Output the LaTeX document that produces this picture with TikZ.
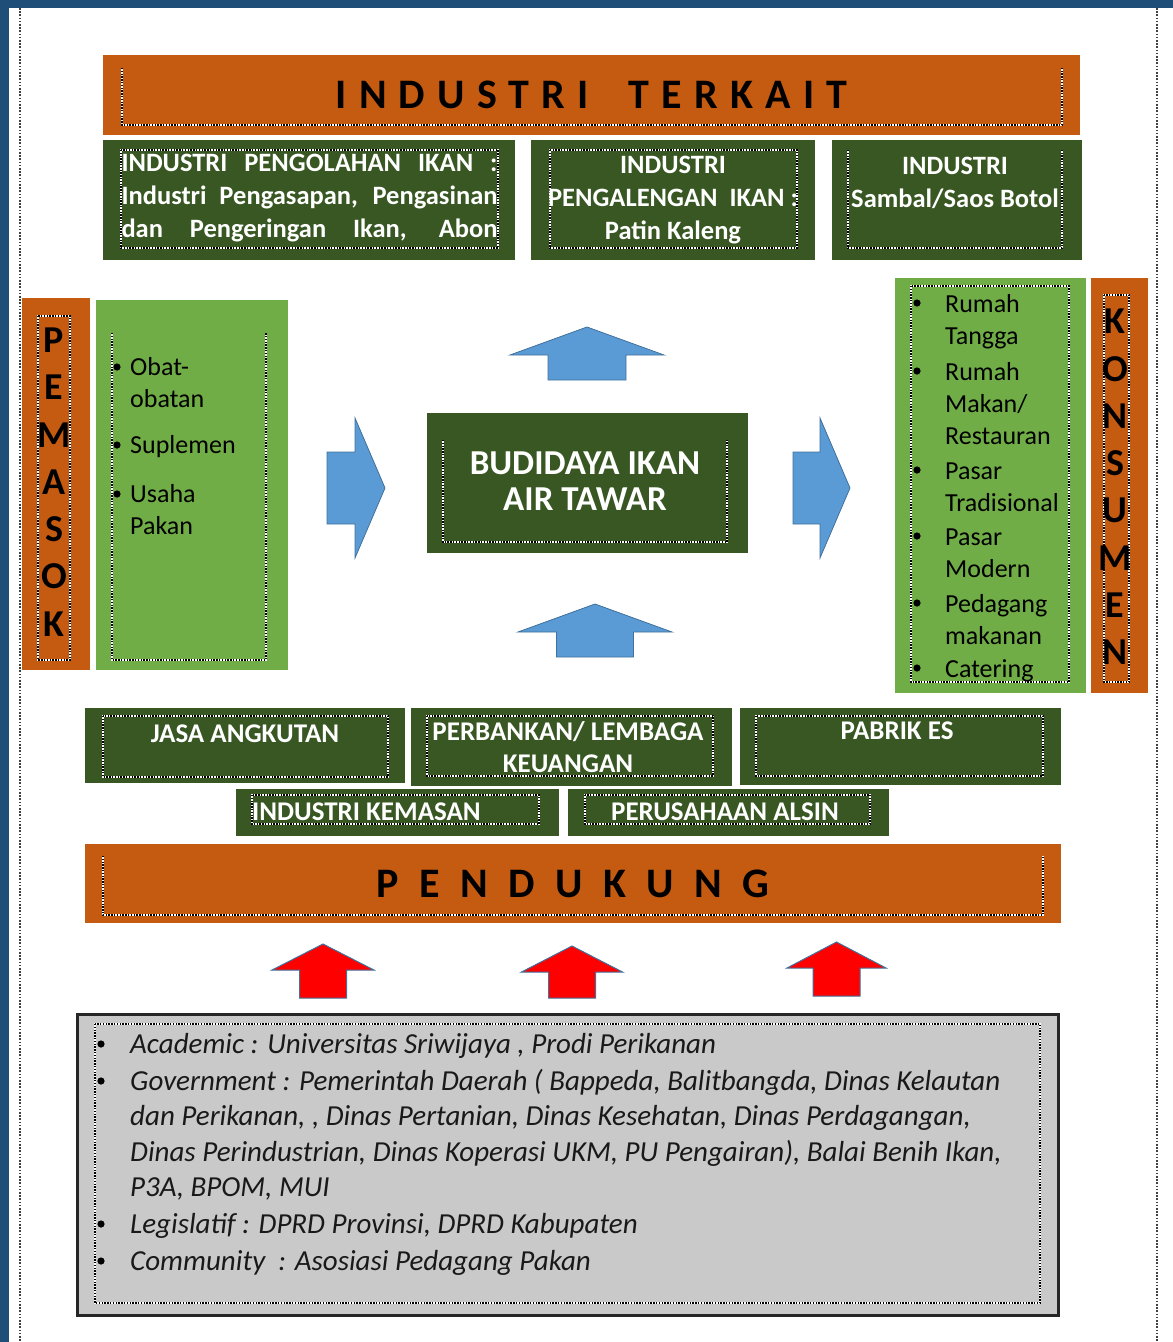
\documentclass[tikz,border=0pt]{standalone}
\usepackage{fontspec}
\setmainfont{Carlito}
\definecolor{orng}{HTML}{C55A11}
\definecolor{dgreen}{HTML}{385723}
\definecolor{lgreen}{HTML}{70AD47}
\definecolor{barrow}{HTML}{5B9BD5}
\definecolor{barrowline}{HTML}{41719C}
\definecolor{pageblue}{HTML}{1F4E79}
\definecolor{greybox}{HTML}{C9C9C9}
\newcommand\uparr[7]{\draw[#7] (#1,#2) -- ({#1+#4},#3) -- ({#1+#5},#3) -- ({#1+#5},#6) -- ({#1-#5},#6) -- ({#1-#5},#3) -- ({#1-#4},#3) -- cycle;}
\newcommand\rtarr[7]{\draw[#7] (#2,#1) -- (#3,{#1-#4}) -- (#3,{#1-#5}) -- (#6,{#1-#5}) -- (#6,{#1+#5}) -- (#3,{#1+#5}) -- (#3,{#1+#4}) -- cycle;}
\newcommand\bul[2]{\fill[black] (#1,#2) circle (3.6pt);}
\begin{document}
\begin{tikzpicture}[x=1pt,y=-1pt,
  box/.style={inner sep=0pt, outer sep=0pt, draw=none},
  obox/.style={box, fill=orng},
  gbox/.style={box, fill=dgreen},
  lbox/.style={box, fill=lgreen},
  dotf/.style={draw=white, line width=1.4pt, postaction={draw=black, line width=1.4pt, dash pattern=on 1.4pt off 1.4pt}},
  wtxt/.style={text=white, align=center, inner sep=0pt, font={\fontsize{26.5}{33}\selectfont\bfseries}},
  wtxtb/.style={wtxt, font={\fontsize{27}{32}\selectfont\bfseries}},
  ltxt/.style={text=black, align=left, inner sep=0pt, anchor=north west, font={\fontsize{26}{32}\selectfont}},
  gtxt/.style={text=black!90, align=left, inner sep=0pt, anchor=north west, font={\fontsize{29}{35.5}\selectfont\itshape}},
  vtxt/.style={text=black, align=center, inner sep=0pt, font={\fontsize{38}{47.3}\selectfont\bfseries}},
  bluearrow/.style={fill=barrow, draw=barrowline, line width=0.8pt},
  redarrow/.style={fill=red, draw=barrowline, line width=1pt}
]
\useasboundingbox (0,0) rectangle (1173,1342);
\fill[white] (0,0) rectangle (1173,1342);
\fill[pageblue] (0,0) rectangle (1173,8);
\fill[pageblue] (0,0) rectangle (9,1342);
\draw[black!75, line width=1.6pt, dash pattern=on 1.6pt off 1.6pt] (20,8) -- (20,1342);
\draw[black!75, line width=1.6pt, dash pattern=on 1.6pt off 1.6pt] (1157,8) -- (1157,1342);

% ---------- INDUSTRI TERKAIT ----------
\node[obox, minimum width=977pt, minimum height=80pt] (terkait) at (591.5,95)
  {\fontsize{42}{50}\selectfont\bfseries\addfontfeature{LetterSpace=29}INDUSTRI\hspace{40pt}TERKAIT};
\draw[dotf] (122,68) -- (122,125) -- (1062,125) -- (1062,68);

\node[gbox, minimum width=412pt, minimum height=120pt] (olah) at (309,200) {};
\path[dotf] (121,150) rectangle (498,248);
\node[wtxt, align=left] (olahtxt) at (309.5,198) {%
  \makebox[376pt][s]{INDUSTRI PENGOLAHAN IKAN :}\\
  \makebox[376pt][s]{Industri Pengasapan, Pengasinan}\\
  \makebox[376pt][s]{dan Pengeringan Ikan, Abon}};

\node[gbox, minimum width=284pt, minimum height=120pt] (kaleng) at (673,200) {};
\path[dotf] (550,150) rectangle (797,248);
\node[wtxt] (kalengtxt) at (673,200) {INDUSTRI\\PENGALENGAN\ \ IKAN :\\Patin Kaleng};

\node[gbox, minimum width=250pt, minimum height=120pt] (sambal) at (957,200) {};
\draw[dotf] (848,150) -- (848,248) -- (1062,248) -- (1062,150);
\node[wtxt] (sambaltxt) at (955,183) {INDUSTRI\\Sambal/Saos Botol};

% ---------- PEMASOK ----------
\node[obox, minimum width=68pt, minimum height=372pt] (pemasok) at (56,484) {};
\path[dotf] (38,316) rectangle (70,660);
\node[vtxt] (pemasoktxt) at (54,482) {P\\E\\M\\A\\S\\O\\K};

\node[lbox, minimum width=192pt, minimum height=370pt] (input) at (192,485) {};
\draw[dotf] (112,333) -- (112,660) -- (266,660) -- (266,333);
\bul{117}{367}\bul{117}{445}\bul{117}{494}
\node[ltxt] (in1) at (130,352.6) {\strut Obat-\\obatan};
\node[ltxt] (in2) at (130,430.6) {\strut Suplemen};
\node[ltxt] (in3) at (130,479.6) {\strut Usaha\\Pakan};

% ---------- centre ----------
\node[gbox, minimum width=321pt, minimum height=140pt] (budidaya) at (587.5,483) {};
\draw[dotf] (443,440) -- (443,542) -- (727,542) -- (727,440);
\node[wtxt, font={\fontsize{35}{36}\selectfont\bfseries}] (budidayatxt) at (585,481) {BUDIDAYA IKAN\\AIR TAWAR};

\uparr{587}{327}{355}{77}{39}{380}{bluearrow}
\uparr{595}{604}{632}{77}{38.5}{657}{bluearrow}
\rtarr{488}{385}{355}{70}{36}{327}{bluearrow}
\rtarr{488}{850}{820}{70}{36}{793}{bluearrow}

% ---------- KONSUMEN ----------
\node[lbox, minimum width=191pt, minimum height=415pt] (pasar) at (990.5,485.5) {};
\path[dotf] (911,286) rectangle (1069,682);
\bul{917}{303}\bul{917}{371}\bul{917}{470}\bul{917}{536}\bul{917}{603}\bul{917}{668}
\node[ltxt] (k1) at (945,289.6) {\strut Rumah\\Tangga};
\node[ltxt] (k2) at (945,357.6) {\strut Rumah\\Makan/\\Restauran};
\node[ltxt] (k3) at (945,456.6) {\strut Pasar\\Tradisional};
\node[ltxt] (k4) at (945,522.6) {\strut Pasar\\Modern};
\node[ltxt] (k5) at (945,589.6) {\strut Pedagang\\makanan};
\node[ltxt] (k6) at (945,654.6) {\strut Catering};

\node[obox, minimum width=57pt, minimum height=415pt] (konsumen) at (1119.5,485.5) {};
\path[dotf] (1104,295) rectangle (1129,682);
\node[vtxt] (konsumentxt) at (1115,487) {K\\O\\N\\S\\U\\M\\E\\N};

% ---------- supporting boxes ----------
\node[gbox, minimum width=320pt, minimum height=75pt] (jasa) at (245,745.5) {};
\path[dotf] (103,716) rectangle (388,777);
\node[wtxtb] (jasatxt) at (245,734) {JASA ANGKUTAN};

\node[gbox, minimum width=321pt, minimum height=78pt] (bank) at (571.5,747) {};
\path[dotf] (427,716) rectangle (713,776);
\node[wtxtb] (banktxt) at (568,747) {PERBANKAN/ LEMBAGA\\KEUANGAN};

\node[gbox, minimum width=321pt, minimum height=77pt] (es) at (900.5,746.5) {};
\path[dotf] (756,716) rectangle (1043,776);
\node[wtxtb] (estxt) at (897,731) {PABRIK ES};

\node[gbox, minimum width=323pt, minimum height=47pt] (kemasan) at (397.5,812.5) {};
\path[dotf] (252,795) rectangle (539,824);
\node[wtxtb, anchor=west] (kemasantxt) at (252,812) {INDUSTRI KEMASAN};

\node[gbox, minimum width=321pt, minimum height=47pt] (alsin) at (728.5,812.5) {};
\path[dotf] (585,795) rectangle (870,824);
\node[wtxtb] (alsintxt) at (725,812) {PERUSAHAAN ALSIN};

% ---------- PENDUKUNG ----------
\node[obox, minimum width=976pt, minimum height=79pt] (pendukung) at (573,883.5)
  {\fontsize{42}{50}\selectfont\bfseries\addfontfeature{LetterSpace=49}PENDUKUNG};
\draw[dotf] (103,856) -- (103,915) -- (1043,915) -- (1043,856);

\uparr{323}{944}{970}{51}{23.5}{998}{redarrow}
\uparr{572}{946}{972}{50.5}{23.5}{998}{redarrow}
\uparr{836.5}{942}{968}{49.5}{23.5}{996}{redarrow}

% ---------- stakeholders ----------
\node[box, fill=greybox, draw=black!85, line width=3pt, minimum width=981pt, minimum height=301pt] (stake) at (567.5,1164.5) {};
\path[dotf] (95,1024) rectangle (1040,1303);
\bul{101}{1044}\bul{101}{1081}\bul{101}{1224}\bul{101}{1261}
\node[gtxt] (s1) at (130,1028.15) {\strut Academic : Universitas Sriwijaya , Prodi Perikanan};
\node[gtxt] (s2) at (130,1065.15) {\strut Government : Pemerintah Daerah ( Bappeda, Balitbangda, Dinas Kelautan\\dan Perikanan, , Dinas Pertanian, Dinas Kesehatan, Dinas Perdagangan,\\Dinas Perindustrian, Dinas Koperasi UKM, PU Pengairan), Balai Benih Ikan,\\P3A, BPOM, MUI};
\node[gtxt] (s3) at (130,1208.15) {\strut Legislatif : DPRD Provinsi, DPRD Kabupaten};
\node[gtxt] (s4) at (130,1245.15) {\strut Community\ \ : Asosiasi Pedagang Pakan};
\end{tikzpicture}
\end{document}
